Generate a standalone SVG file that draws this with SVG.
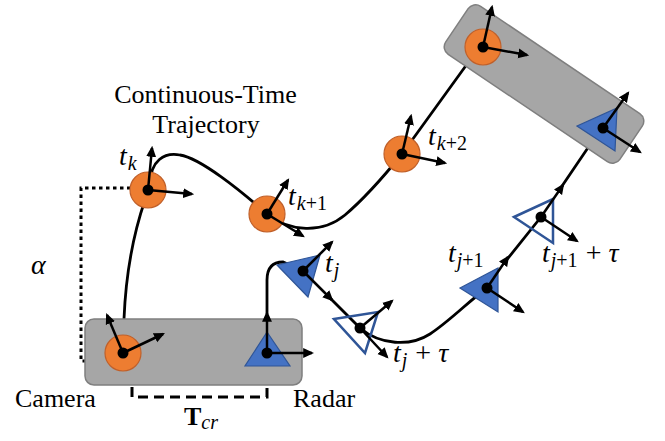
<svg xmlns="http://www.w3.org/2000/svg" width="665" height="441" viewBox="0 0 665 441">
<style>
.tr{fill:none;stroke:#000;stroke-width:2.8;stroke-linecap:round}
.ax{fill:none;stroke:#000;stroke-width:2.5;marker-end:url(#ah)}
.cam{fill:#ED7D31;stroke:#C0602A;stroke-width:1.2}
.rad{fill:#4472C4;stroke:#2F5597;stroke-width:1.2}
.radh{fill:none;stroke:#2F5597;stroke-width:2.5}
.box{fill:#A6A6A6;stroke:#7F7F7F;stroke-width:1.5}
.dot{fill:#000}
.lbl{font-family:"Liberation Serif",serif;font-size:26px;fill:#000}
.m{font-family:"Liberation Serif",serif;font-style:italic;font-size:28px;fill:#000}
.s{font-size:20px}
.u{font-style:normal}
</style>
<defs>
<marker id="ah" viewBox="0 0 10 10" refX="8" refY="5" markerWidth="4.4" markerHeight="4.4" orient="auto" markerUnits="strokeWidth"><path d="M0,0.5 L10,5 L0,9.5 z" fill="#000"/></marker>
</defs>

<g id="connectors">
<path class="tr" d="M124,319 C126,270 133,235 145,200"/>
<path class="tr" d="M150,185 C150,160 165,152 180,155 C200,158 240,190 267,214"/>
<path class="tr" d="M267,214 C290,232 322,234 345,215 C365,198 385,175 402,154"/>
<path class="tr" d="M402,154 L470,60"/>
<path class="tr" d="M267,313 V280 Q267,262 283,262 L303,271"/>
<path class="tr" d="M330,298 L360,328"/>
<path class="tr" d="M360,328 C380,345 410,347 430,334 C450,321 470,300 487,288"/>
<path class="tr" d="M505,262 L541,217"/>
<path class="tr" d="M560,189 L600,130"/>
<path d="M107,361 H81 V188 H130" fill="none" stroke="#000" stroke-width="3" stroke-dasharray="3.5,3.5"/>
<path d="M132,371 V397 H267 V370" fill="none" stroke="#000" stroke-width="3" stroke-dasharray="10,6" marker-end="url(#ah)"/>
</g>

<g id="rig-bottom">
<rect class="box" x="85" y="319" width="217" height="66" rx="9"/>
</g>
<g id="rig-top">
<rect class="box" x="-105" y="-29" width="210" height="58" rx="9" transform="translate(544,84) rotate(34)"/>
</g>

<g id="cam-bottom">
<circle class="cam" cx="123" cy="353" r="18"/>
<circle class="dot" cx="123" cy="353" r="5.5"/>
<line class="ax" x1="123" y1="353" x2="107" y2="315"/>
<line class="ax" x1="123" y1="353" x2="163" y2="334"/>
</g>
<g id="radar-bottom">
<polygon class="rad" points="267,332 245,366 290,366"/>
<circle class="dot" cx="267" cy="353" r="5.5"/>
<line class="ax" x1="267" y1="353" x2="312" y2="353"/>
<line class="ax" x1="267" y1="353" x2="267" y2="313"/>
</g>
<g id="tk">
<circle class="cam" cx="148" cy="190" r="18"/>
<circle class="dot" cx="148" cy="190" r="5.5"/>
<line class="ax" x1="148" y1="190" x2="152" y2="148"/>
<line class="ax" x1="148" y1="190" x2="192" y2="194"/>
</g>
<g id="tk1">
<circle class="cam" cx="267" cy="214" r="18"/>
<circle class="dot" cx="267" cy="214" r="5.5"/>
<line class="ax" x1="267" y1="214" x2="288" y2="180"/>
<line class="ax" x1="267" y1="214" x2="303" y2="236"/>
</g>
<g id="tk2">
<circle class="cam" cx="402" cy="154" r="18"/>
<circle class="dot" cx="402" cy="154" r="5.5"/>
<line class="ax" x1="402" y1="154" x2="411" y2="116"/>
<line class="ax" x1="402" y1="154" x2="445" y2="163"/>
</g>
<g id="cam-top">
<circle class="cam" cx="483" cy="47" r="18"/>
<circle class="dot" cx="483" cy="47" r="5.5"/>
<line class="ax" x1="483" y1="47" x2="492" y2="7"/>
<line class="ax" x1="483" y1="47" x2="527" y2="55"/>
</g>
<g id="radar-top">
<polygon class="rad" points="577,126 617,108 615,151"/>
<circle class="dot" cx="603" cy="128" r="5.5"/>
<line class="ax" x1="603" y1="128" x2="628" y2="93"/>
<line class="ax" x1="603" y1="128" x2="640" y2="152"/>
</g>
<g id="tj">
<polygon class="rad" points="277,265 320,255 308,297"/>
<circle class="dot" cx="303" cy="271" r="5.5"/>
<line class="ax" x1="303" y1="271" x2="332" y2="242"/>
<line class="ax" x1="303" y1="271" x2="332" y2="300"/>
</g>
<g id="tjtau">
<polygon class="radh" points="334,319 378,312 365,353"/>
<circle class="dot" cx="360" cy="328" r="5.5"/>
<line class="ax" x1="360" y1="328" x2="392" y2="301"/>
<line class="ax" x1="360" y1="328" x2="387" y2="357"/>
</g>
<g id="tj1">
<polygon class="rad" points="460,288 498,268 498,312"/>
<circle class="dot" cx="487" cy="288" r="5.5"/>
<line class="ax" x1="487" y1="288" x2="508" y2="257"/>
<line class="ax" x1="487" y1="288" x2="523" y2="312"/>
</g>
<g id="tj1tau">
<polygon class="radh" points="514,217 553,199 553,243"/>
<circle class="dot" cx="541" cy="217" r="5.5"/>
<line class="ax" x1="541" y1="217" x2="563" y2="185"/>
<line class="ax" x1="541" y1="217" x2="577" y2="241"/>
</g>

<g id="labels">
<text class="lbl" x="205.5" y="103" text-anchor="middle">Continuous-Time</text>
<text class="lbl" x="206" y="133" text-anchor="middle">Trajectory</text>
<text class="lbl" x="15" y="407">Camera</text>
<text class="lbl" x="293" y="407">Radar</text>
<text class="m" x="31" y="274">α</text>
<text class="m" x="119" y="165">t<tspan class="s" dx="1" dy="5">k</tspan></text>
<text class="m" x="288" y="205">t<tspan class="s" dx="1" dy="5">k<tspan class="u">+1</tspan></tspan></text>
<text class="m" x="428" y="145">t<tspan class="s" dx="1" dy="5">k<tspan class="u">+2</tspan></tspan></text>
<text class="m" x="325" y="272">t<tspan class="s" dx="1" dy="5">j</tspan></text>
<text class="m" x="393" y="362">t<tspan class="s" dx="1" dy="5">j</tspan><tspan dx="8" dy="-5" class="u">+</tspan><tspan dx="7">τ</tspan></text>
<text class="m" x="448" y="262">t<tspan class="s" dx="1" dy="5">j<tspan class="u">+1</tspan></tspan></text>
<text class="m" x="542" y="262">t<tspan class="s" dx="1" dy="5">j<tspan class="u">+1</tspan></tspan><tspan dx="8" dy="-5" class="u">+</tspan><tspan dx="7">τ</tspan></text>
<text class="lbl" x="184" y="425" font-weight="bold" font-size="24">T<tspan class="m s" dy="4" font-weight="normal">cr</tspan></text>
</g>
</svg>
